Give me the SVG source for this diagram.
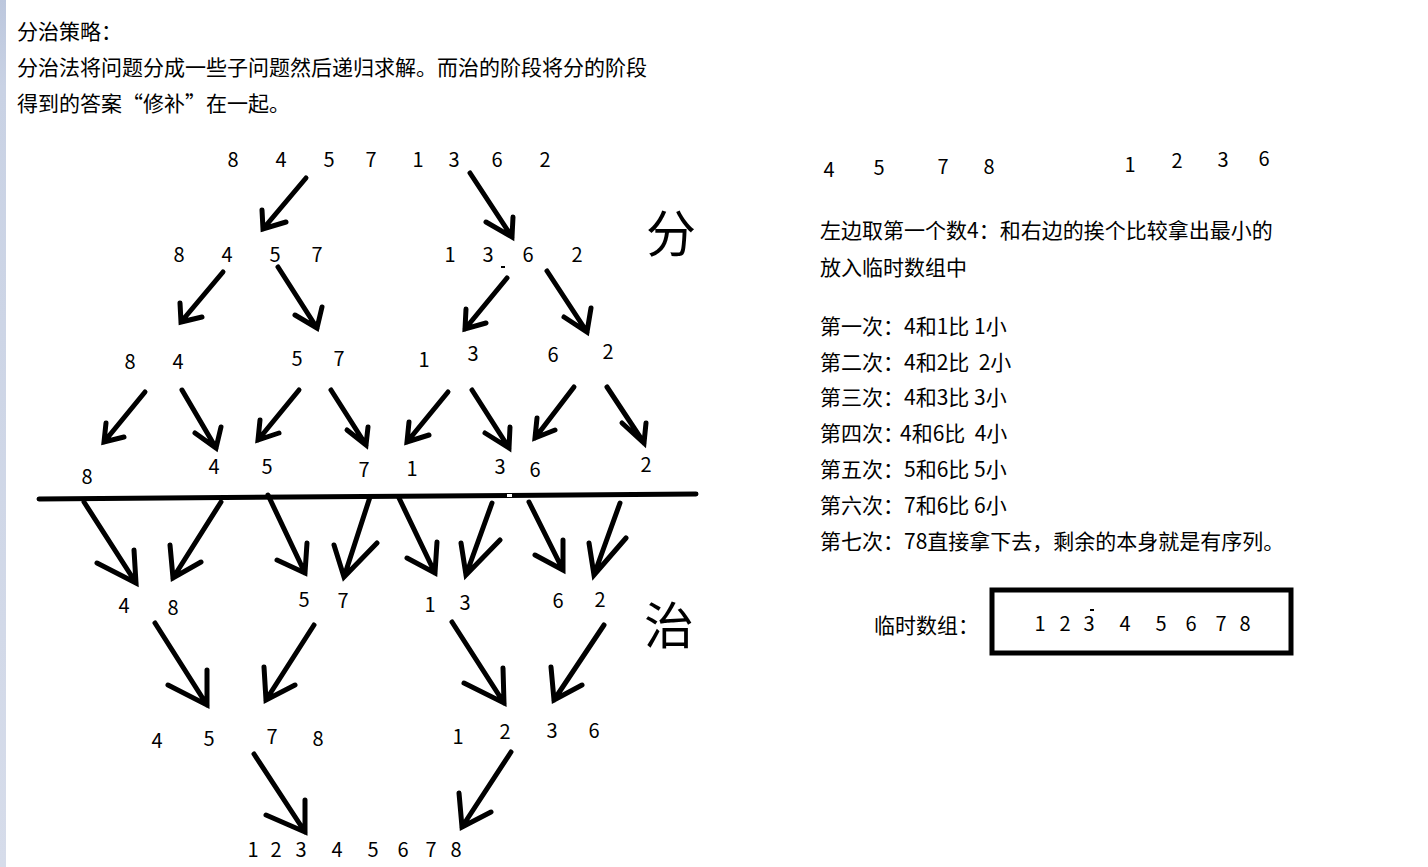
<svg xmlns="http://www.w3.org/2000/svg" width="1428" height="867" viewBox="0 0 1428 867">
<defs>
<linearGradient id="strip" x1="0" y1="0" x2="0" y2="1">
<stop offset="0" stop-color="#bcc7dd"/>
<stop offset="0.1" stop-color="#c9d2e4"/>
<stop offset="1" stop-color="#d6dcea"/>
</linearGradient>
</defs>
<style>
text{font-family:"Noto Sans CJK SC","Microsoft YaHei",sans-serif;fill:#000}
.t{font-size:21px}
.r{font-size:21px}
.n{font-size:20px;text-anchor:middle}
.big{font-size:50px;text-anchor:middle}
.arr{fill:none;stroke:#000;stroke-width:5;stroke-linecap:round;stroke-linejoin:miter;stroke-miterlimit:3}
</style>
<rect x="0" y="0" width="1428" height="867" fill="#fff"/>
<rect x="0" y="0" width="6" height="867" fill="url(#strip)"/>

<g id="intro">
<text class="t" x="17" y="39">分治策略：</text>
<text class="t" x="17" y="75">分治法将问题分成一些子问题然后递归求解。而治的阶段将分的阶段</text>
<text class="t" x="17" y="111">得到的答案“修补”在一起。</text>
</g>

<g id="divide-rows">
<text class="n" x="233 281 329 371 418 454 497 545" y="167">84571362</text>
<text class="n" x="179 227 275 317 450 488 528 577" y="262">84571362</text>
<text class="n" x="130 178 297 339 424 473 553 608" y="369 369 366 366 367 361 362 359">84571362</text>
<text class="n" x="87 214 267 364 412 500 535 646" y="484 474 474 477 476 474 477 472">84571362</text>
<rect x="501" y="266" width="4" height="2" fill="#000"/>
</g>

<g id="split-line">
<path d="M39,499 L696,494" fill="none" stroke="#000" stroke-width="5" stroke-linecap="round"/>
<rect x="507" y="494" width="5" height="3" fill="#fff"/>
</g>

<g id="merge-rows">
<text class="n" x="124 173 304 343 430 465 558 600" y="613 615 607 608 612 610 608 607">48571362</text>
<text class="n" x="157 209 272 318 458 505 552 594" y="748 746 744 746 744 739 738 738">45781236</text>
<text class="n" x="253 276 301 337 373 403 431 456" y="857">12345678</text>
</g>

<g id="label-divide"><text class="big" x="671" y="252">分</text></g>
<g id="label-conquer"><text class="big" x="669" y="644">治</text></g>

<g id="connectors">
<path class="arr" d="M306,178 L263,229 M262,210 L263,229 L286,222"/>
<path class="arr" d="M470,173 L512,237 M513,217 L512,237 L486,222"/>
<path class="arr" d="M223,272 L181,322 M180,303 L181,322 L202,317"/>
<path class="arr" d="M278,267 L317,328 M322,307 L317,328 L295,315"/>
<path class="arr" d="M507,278 L465,329 M466,309 L465,329 L486,323"/>
<path class="arr" d="M547,271 L587,332 M591,308 L587,332 L564,317"/>
<path class="arr" d="M145,392 L104,442 M106,423 L104,442 L124,437"/>
<path class="arr" d="M182,390 L216,448 M221,427 L216,448 L195,433"/>
<path class="arr" d="M299,390 L258,440 M260,420 L258,440 L279,433"/>
<path class="arr" d="M331,390 L366,445 M368,427 L366,445 L347,430"/>
<path class="arr" d="M448,392 L407,442 M409,422 L407,442 L429,435"/>
<path class="arr" d="M472,390 L509,448 M510,427 L509,448 L485,433"/>
<path class="arr" d="M574,387 L535,438 M537,418 L535,438 L555,430"/>
<path class="arr" d="M607,387 L644,443 M646,423 L644,443 L622,423"/>
<path class="arr" d="M84,502 L136,583 M134,550 L136,583 L97,563"/>
<path class="arr" d="M221,502 L173,578 M170,545 L173,578 L201,562"/>
<path class="arr" d="M268,495 L305,573 M307,543 L305,573 L277,560"/>
<path class="arr" d="M370,497 L344,577 M334,545 L344,577 L377,543"/>
<path class="arr" d="M399,498 L435,573 M437,542 L435,573 L407,558"/>
<path class="arr" d="M492,503 L466,575 M461,543 L466,575 L500,540"/>
<path class="arr" d="M529,502 L563,570 M563,540 L563,570 L535,555"/>
<path class="arr" d="M620,503 L594,575 M589,543 L594,575 L626,538"/>
<path class="arr" d="M155,623 L207,705 M207,670 L207,705 L168,685"/>
<path class="arr" d="M314,625 L266,700 M264,667 L266,700 L295,685"/>
<path class="arr" d="M452,622 L504,703 M503,668 L504,703 L464,683"/>
<path class="arr" d="M604,625 L554,700 M551,667 L554,700 L582,685"/>
<path class="arr" d="M254,754 L305,832 M305,800 L305,832 L266,815"/>
<path class="arr" d="M511,752 L462,827 M459,793 L462,827 L491,812"/>
</g>

<g id="right-halves">
<text class="n" x="829 879 943 989 1130 1177 1223 1264" y="177 175 174 174 172 168 167 166">45781236</text>
</g>

<g id="explanation">
<text class="r" x="820" y="238">左边取第一个数4：和右边的挨个比较拿出最小的</text>
<text class="r" x="820" y="275">放入临时数组中</text>
<text class="r" x="820" y="334">第一次：4和1比 1小</text>
<text class="r" x="820" y="370" xml:space="preserve">第二次：4和2比  2小</text>
<text class="r" x="820" y="405">第三次：4和3比 3小</text>
<text class="r" x="820" y="441" xml:space="preserve">第四次：<tspan dx="-4">4和6比  4小</tspan></text>
<text class="r" x="820" y="477">第五次：5和6比 5小</text>
<text class="r" x="820" y="513">第六次：7和6比 6小</text>
<text class="r" x="820" y="549">第七次：78直接拿下去，剩余的本身就是有序列。</text>
</g>

<g id="temp-array">
<text class="r" x="874" y="633">临时数组：</text>
<rect x="992" y="590" width="299" height="63" fill="none" stroke="#000" stroke-width="5"/>
<text class="n" x="1040 1065 1089 1125 1161 1191 1221 1245" y="631">12345678</text>
<rect x="1090" y="609" width="4" height="2" fill="#000"/>
</g>
</svg>
